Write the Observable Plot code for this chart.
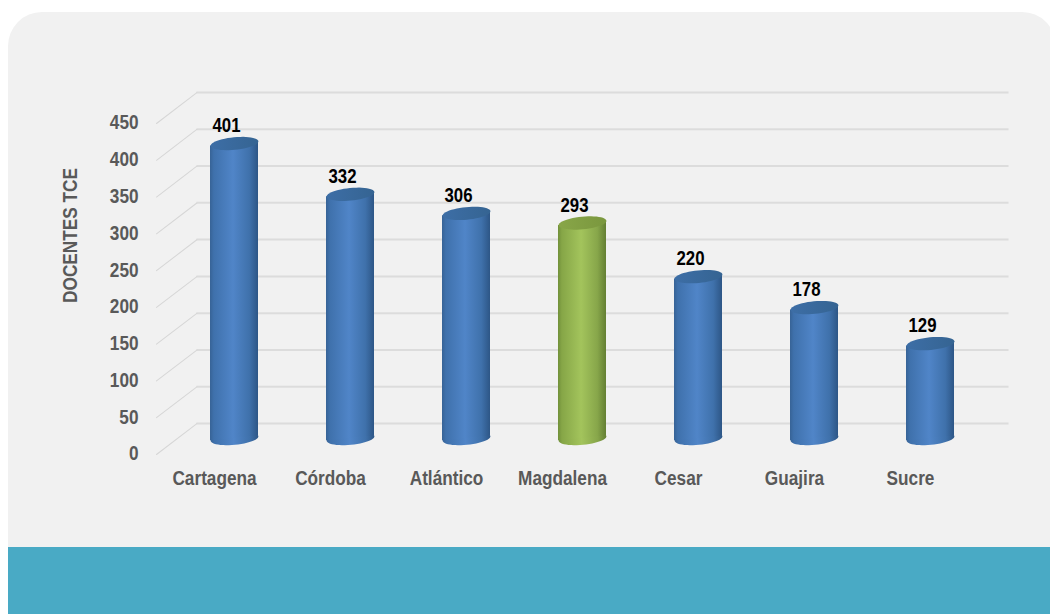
<!DOCTYPE html>
<html><head><meta charset="utf-8">
<script src="https://cdn.jsdelivr.net/npm/d3@7"></script>
<script src="https://cdn.jsdelivr.net/npm/@observablehq/plot@0.6"></script>
<style>
html,body{margin:0;padding:0;background:#fff;}
#stage{position:relative;width:1050px;height:614px;overflow:hidden;}
#panel{position:absolute;left:8px;top:12px;width:1048px;height:535px;background:#f1f1f1;border-radius:34px 34px 0 0;}
#band{position:absolute;left:8px;top:547px;width:1042px;height:67px;background:#49aac5;}
#chart{position:absolute;left:0;top:0;}
#chart svg{background:transparent;display:block;}
#chart g[aria-label="bar"] rect{clip-path:polygon(0 4.8px,100% 0,100% calc(100% - 4.8px),0 100%);}
</style></head>
<body><div id="stage"><div id="panel"></div><div id="band"></div><div id="chart"></div></div>
<script>
const categories = ["Cartagena","Córdoba","Atlántico","Magdalena","Cesar","Guajira","Sucre"];
const values = [401,332,306,293,220,178,129];
const highlighted = ["Magdalena"];
const yTicks = [0,50,100,150,200,250,300,350,400,450];
const yLabel = "DOCENTES TCE";

const rows = categories.map((c,i)=>({c,v:values[i],hi:highlighted.includes(c)}));
const FONT = '"Liberation Sans",Arial,sans-serif';
const depthX = 20, depthY = -16;   // where bars stand on the sloped floor

// tilted ellipse, as a Plot symbol: rising to the right
function tiltedEllipse(a,b,deg){
  const t = deg*Math.PI/180, c = Math.cos(t), s = Math.sin(t);
  return {draw(ctx){
    const n = 48;
    for(let k=0;k<=n;k++){
      const u = k/n*2*Math.PI, x = a*Math.cos(u), y = b*Math.sin(u);
      const px = x*c - y*s, py = x*s + y*c;
      if(k===0) ctx.moveTo(px,py); else ctx.lineTo(px,py);
    }
    ctx.closePath();
  }};
}
const ellipse = tiltedEllipse(24,6.3,-5.5);
const spokeShape = {draw(ctx,l){ctx.moveTo(0,0);ctx.lineTo(0,-l);}};

function grad(id,stops){
  return `<linearGradient id="${id}" x1="0" x2="1" y1="0" y2="0">`+
    stops.map(([o,c])=>`<stop offset="${o}" stop-color="${c}"/>`).join("")+`</linearGradient>`;
}
const defsMark = () => {
  const g = document.createElementNS("http://www.w3.org/2000/svg","defs");
  g.innerHTML =
    grad("bBody",[[0,"#376396"],[0.08,"#3f71ac"],[0.48,"#5085c8"],[0.82,"#3f71ab"],[1,"#2d5686"]])+
    grad("gBody",[[0,"#71903a"],[0.08,"#86a647"],[0.48,"#a3c45c"],[0.82,"#87a64a"],[1,"#647f33"]])+
    grad("bTop",[[0,"#3d6ea6"],[1,"#356492"]])+
    grad("gTop",[[0,"#88a648"],[1,"#7a973e"]]);
  return g;
};
const body = d => d.hi ? "url(#gBody)" : "url(#bBody)";
const top_ = d => d.hi ? "url(#gTop)" : "url(#bTop)";

const chart = Plot.plot({
  width:1050, height:614,
  marginLeft:156, marginRight:82, marginTop:123, marginBottom:160,
  style:{background:"transparent",fontFamily:FONT},
  x:{type:"band",domain:categories,paddingInner:1-48/116,paddingOuter:(1-48/116)/2,align:0.5,label:null},
  y:{domain:[0,450],range:[454,123],label:null},
  marks:[
    defsMark,
    Plot.ruleY(yTicks,{dx:40.5,dy:-31,stroke:"#dcdcdc",strokeWidth:2}),
    Plot.vector(yTicks,{y:d=>d,frameAnchor:"left",length:50.8,rotate:52.6,anchor:"start",
      shape:spokeShape,stroke:"#d6d6d6",strokeWidth:1}),
    Plot.axisY({ticks:yTicks,tickSize:0,tickPadding:18,fontSize:20,fontWeight:"bold",color:"#595959",
      fontFamily:FONT,label:null,tickFormat:d=>String(d),dy:-0.5}),
    Plot.axisX({tickSize:0,tickPadding:16,fontSize:20,fontWeight:"bold",color:"#595959",
      fontFamily:FONT,label:null}),
    Plot.text([yLabel],{frameAnchor:"left",textAnchor:"middle",dx:-86,dy:-53.5,rotate:-90,text:d=>d,fontSize:20,fontWeight:"bold",fill:"#595959",fontFamily:FONT}),
    Plot.dot(rows,{x:"c",y:()=>0,dx:depthX,dy:depthY,symbol:ellipse,r:10,fill:body,stroke:"none"}),
    Plot.barY(rows,{x:"c",y:"v",dx:depthX,dy:depthY,fill:body,insetTop:-2.4,insetBottom:-2.4}),
    Plot.dot(rows,{x:"c",y:"v",dx:depthX,dy:depthY,symbol:ellipse,r:10,fill:top_,stroke:"none"}),
    Plot.text(rows,{x:"c",y:"v",text:d=>String(d.v),dx:12,dy:-34,fontSize:21,fontWeight:"bold",fill:"#000",fontFamily:FONT})
  ]
});
document.getElementById("chart").appendChild(chart);
// condense every label to the narrow bold face of the reference (no narrow font is installed)
chart.querySelectorAll("text").forEach(t=>{
  const raw = t.textContent.trim();
  const isValue = values.map(String).includes(raw);
  const f = isValue ? 0.8 : 0.86;
  const len = t.getComputedTextLength();
  t.setAttribute("textLength",len*f);
  t.setAttribute("lengthAdjust","spacingAndGlyphs");
});
</script></body></html>
